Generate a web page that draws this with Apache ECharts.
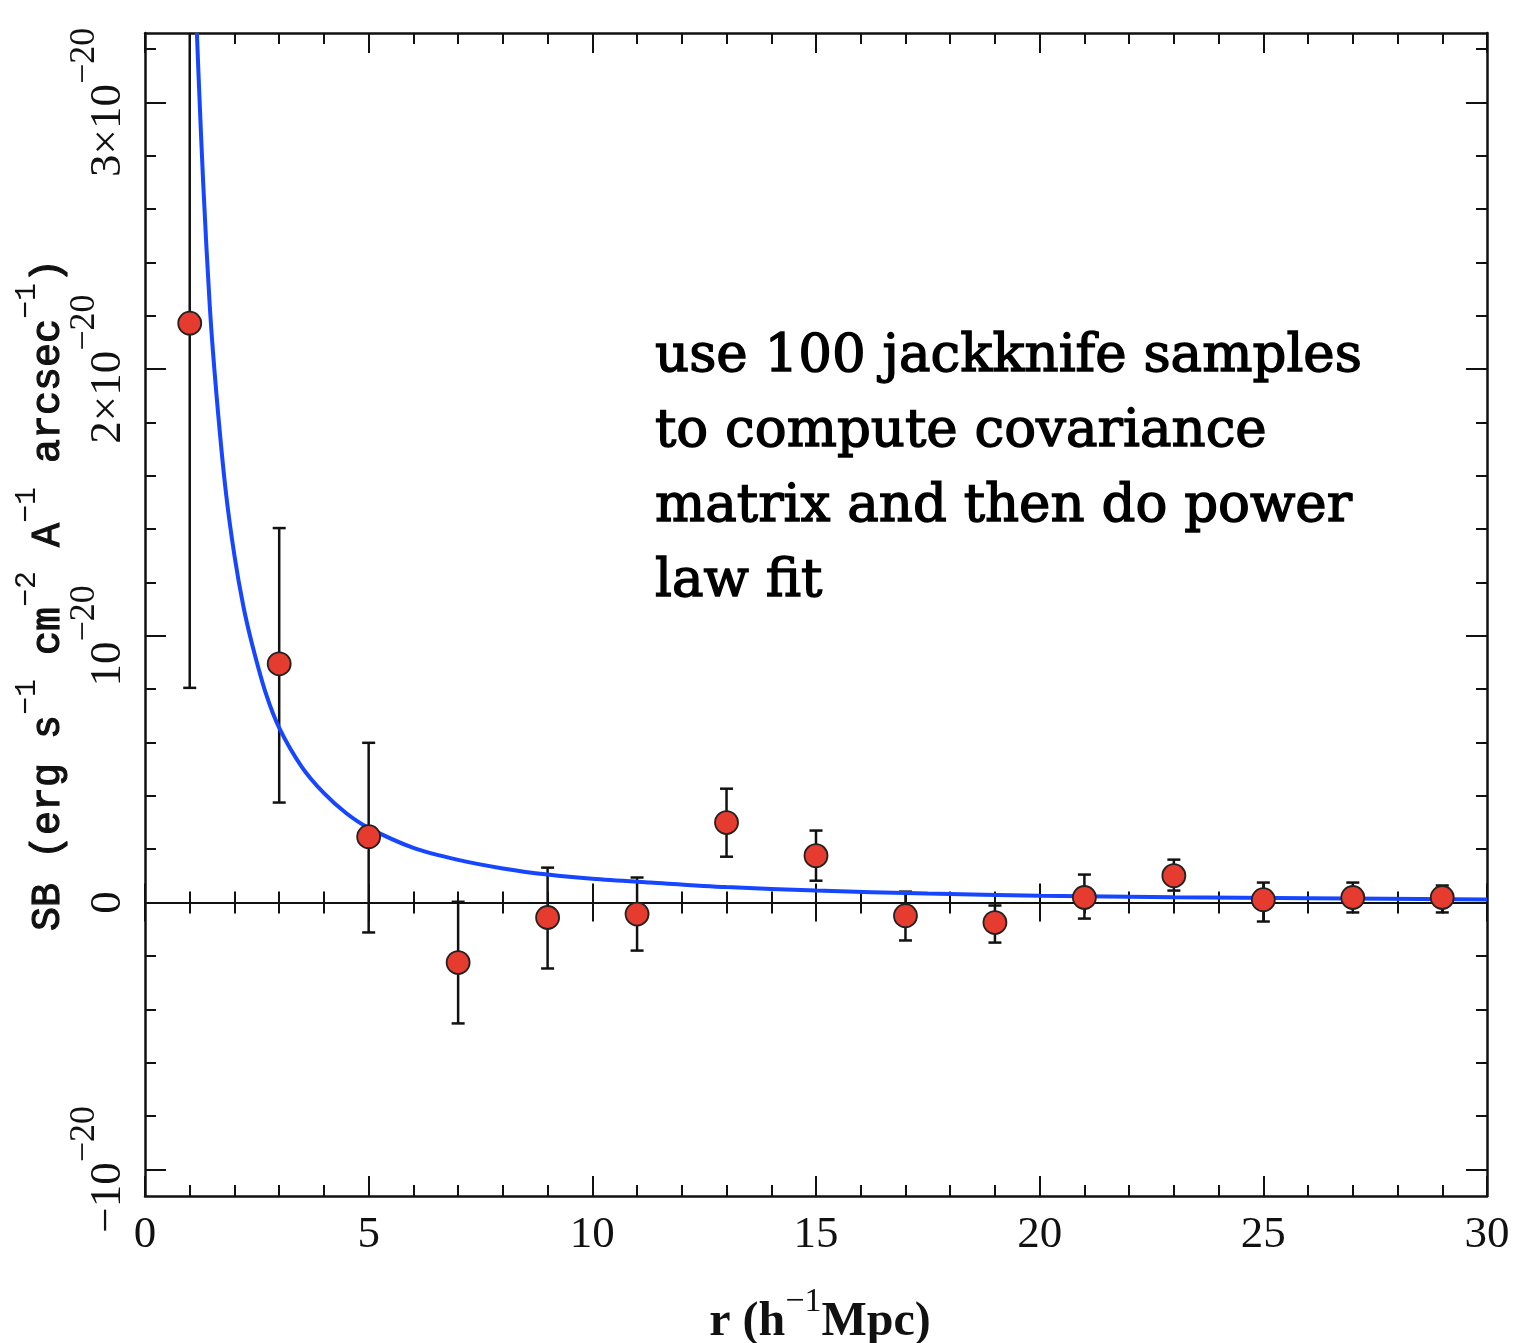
<!DOCTYPE html>
<html><head><meta charset="utf-8">
<script src="https://cdn.jsdelivr.net/npm/echarts@6/dist/echarts.min.js"></script>
<style>html,body{margin:0;padding:0;background:#fff}#c{width:1522px;height:1343px}</style>
</head><body><div id="c"></div>
<script>
// r in h^-1 Mpc; SB in units of 1e-20 erg s^-1 cm^-2 A^-1 arcsec^-1
const rVals  = [1, 3, 5, 7, 9, 11, 13, 15, 17, 19, 21, 23, 25, 27, 29];
const sbVals = [2.172, 0.895, 0.247, -0.225, -0.056, -0.043, 0.300, 0.176, -0.049, -0.075, 0.019, 0.101, 0.011, 0.019, 0.019];
const sbLow  = [0.805, 0.375, -0.112, -0.453, -0.247, -0.180, 0.172, 0.082, -0.142, -0.150, -0.060, 0.045, -0.071, -0.037, -0.037];
const sbHigh = [3.540, 1.404, 0.599, 0.003, 0.131, 0.094, 0.427, 0.270, 0.041, -0.011, 0.105, 0.161, 0.075, 0.075, 0.064];
// power-law fit curve
const fitR  = [1.16, 1.2, 1.3, 1.45, 1.6, 1.8, 2.0, 2.2, 2.4, 2.7, 3.0, 3.5, 4.0, 4.5, 5.0, 6.0, 7.0, 8.0, 9.0, 10, 11.3, 13, 15, 17.5, 20, 23, 26, 30];
const fitSB = [3.26, 3.09, 2.70, 2.23, 1.90, 1.55, 1.30, 1.11, 0.965, 0.785, 0.655, 0.51, 0.41, 0.335, 0.28, 0.205, 0.16, 0.128, 0.105, 0.089, 0.075, 0.058, 0.045, 0.034, 0.026, 0.020, 0.016, 0.012];
const yMajorTicks = [-1, 0, 1, 2, 3];
const yMajorBase  = ['−10', '0', '10', '2×10', '3×10'];
const yMajorSup   = ['−20', '', '−20', '−20', '−20'];
const yMinorTicks = [-1, -0.8, -0.6, -0.4, -0.2, 0, 0.2, 0.4, 0.6, 0.8, 1, 1.2, 1.4, 1.6, 1.8, 2, 2.2, 2.4, 2.6, 2.8, 3, 3.2];
const noteLines = ['use 100 jackknife samples', 'to compute covariance', 'matrix and then do power', 'law fit'];

const serif = '"Liberation Serif", "DejaVu Serif", serif';
const mono = '"Liberation Mono", "DejaVu Sans Mono", monospace';
const black = '#111';

const chart = echarts.init(document.getElementById('c'));

function xAxisBase(extra) {
  return Object.assign({
    type: 'value', min: 0, max: 30, interval: 5,
    splitLine: {show: false},
    axisLine: {show: true, onZero: false, lineStyle: {color: black, width: 2.5}},
    axisTick: {show: true, inside: true, length: 20, lineStyle: {color: black, width: 2}},
    minorTick: {show: true, splitNumber: 5, length: 11, lineStyle: {color: black, width: 2}},
    axisLabel: {show: false}
  }, extra);
}
function yAxisBase(extra) {
  return Object.assign({
    type: 'value', min: -1.1, max: 3.26,
    splitLine: {show: false},
    axisLine: {show: true, onZero: false, lineStyle: {color: black, width: 2.5}},
    axisLabel: {show: false}
  }, extra);
}

const supRich = {
  b: {fontFamily: serif, fontSize: 45, color: black, lineHeight: 64, verticalAlign: 'bottom'},
  s: {fontFamily: serif, fontSize: 36, color: black, verticalAlign: 'top'}
};

chart.setOption({
  animation: false,
  backgroundColor: '#fff',
  grid: {left: 145, top: 33, width: 1342, height: 1163, containLabel: false},
  xAxis: [
    xAxisBase({position: 'bottom',
      axisLabel: {show: true, margin: 17, fontFamily: serif, fontSize: 45, color: black}}),
    xAxisBase({position: 'top'}),
    xAxisBase({position: 'bottom',
      axisLine: {show: true, onZero: true, onZeroAxisIndex: 0, lineStyle: {color: black, width: 2}},
      axisTick: {show: true, inside: true, length: 19, lineStyle: {color: black, width: 2}}}),
    xAxisBase({position: 'bottom',
      axisLine: {show: true, onZero: true, onZeroAxisIndex: 0, lineStyle: {color: black, width: 2}},
      axisTick: {show: true, inside: false, length: 19, lineStyle: {color: black, width: 2}},
      minorTick: {show: true, splitNumber: 5, length: 11, lineStyle: {color: black, width: 2}}})
  ],
  yAxis: [
    yAxisBase({position: 'left',
      axisTick: {show: true, inside: true, length: 21, customValues: yMajorTicks, lineStyle: {color: black, width: 2}},
      axisLabel: {show: true, customValues: yMajorTicks, rotate: 90, margin: 14,
        formatter: function (v) {
          const i = yMajorTicks.indexOf(Math.round(v));
          if (i < 0) return '';
          return '{b|' + yMajorBase[i] + '}' + (yMajorSup[i] ? '{s|' + yMajorSup[i] + '}' : '');
        },
        rich: supRich}}),
    yAxisBase({position: 'left', axisLine: {show: false, onZero: false},
      axisTick: {show: true, inside: true, length: 11, customValues: yMinorTicks, lineStyle: {color: black, width: 2}}}),
    yAxisBase({position: 'right',
      axisTick: {show: true, inside: true, length: 21, customValues: yMajorTicks, lineStyle: {color: black, width: 2}}}),
    yAxisBase({position: 'right', axisLine: {show: false, onZero: false},
      axisTick: {show: true, inside: true, length: 11, customValues: yMinorTicks, lineStyle: {color: black, width: 2}}})
  ],
  series: [
    {
      type: 'custom', name: 'errors', xAxisIndex: 0, yAxisIndex: 0, z: 2,
      data: rVals.map((r, i) => [r, sbLow[i], sbHigh[i]]),
      encode: {x: 0, y: [1, 2]},
      renderItem: function (params, api) {
        const x = api.value(0);
        const lo = api.coord([x, api.value(1)]);
        const hi = api.coord([x, api.value(2)]);
        const cs = params.coordSys;
        const top = cs.y, bottom = cs.y + cs.height;
        const yHi = Math.max(hi[1], top), yLo = Math.min(lo[1], bottom);
        const st = {stroke: black, lineWidth: 2.5};
        const cw = 6.5;
        const ch = [{type: 'line', shape: {x1: lo[0], y1: yLo, x2: lo[0], y2: yHi}, style: st}];
        if (hi[1] >= top) ch.push({type: 'line', shape: {x1: hi[0] - cw, y1: hi[1], x2: hi[0] + cw, y2: hi[1]}, style: st});
        if (lo[1] <= bottom) ch.push({type: 'line', shape: {x1: lo[0] - cw, y1: lo[1], x2: lo[0] + cw, y2: lo[1]}, style: st});
        return {type: 'group', children: ch};
      }
    },
    {
      type: 'line', name: 'fit', xAxisIndex: 0, yAxisIndex: 0, z: 3,
      data: fitR.map((r, i) => [r, fitSB[i]]),
      showSymbol: false, smooth: 0.3, clip: true,
      lineStyle: {color: '#1646ff', width: 4}
    },
    {
      type: 'scatter', name: 'SB', xAxisIndex: 0, yAxisIndex: 0, z: 4,
      data: rVals.map((r, i) => [r, sbVals[i]]),
      symbol: 'circle', symbolSize: 23,
      itemStyle: {color: '#e63b2f', borderColor: '#222', borderWidth: 1.8, opacity: 1}
    }
  ],
  graphic: [
    {
      type: 'text', x: 655, y: 320, z: 10,
      style: {text: noteLines.join('\n'), fontFamily: '"DejaVu Serif", serif', fontSize: 53, lineHeight: 75,
        fill: '#000', stroke: '#000', lineWidth: 1.4}
    },
    {
      type: 'text', x: 820, y: 1316, z: 10,
      style: {text: '{b|r (h}{s|−1}{b|Mpc)}', align: 'center', verticalAlign: 'middle',
        rich: {
          b: {fontFamily: serif, fontSize: 48, fontWeight: 'bold', fill: black, lineHeight: 62, verticalAlign: 'bottom'},
          s: {fontFamily: serif, fontSize: 34, fill: black, verticalAlign: 'top'}
        }}
    },
    {
      type: 'text', x: 40, y: 595, rotation: Math.PI / 2, z: 10,
      style: {text: '{b|SB (erg s}{s|−1}{b| cm}{s|−2}{b| A}{s|−1}{b| arcsec}{s|−1}{b|)}',
        align: 'center', verticalAlign: 'middle',
        rich: {
          b: {fontFamily: mono, fontSize: 40, fill: black, stroke: black, lineWidth: 1.2, lineHeight: 56, verticalAlign: 'bottom'},
          s: {fontFamily: mono, fontSize: 30, fill: black, verticalAlign: 'top'}
        }}
    }
  ]
});
</script>
</body></html>
